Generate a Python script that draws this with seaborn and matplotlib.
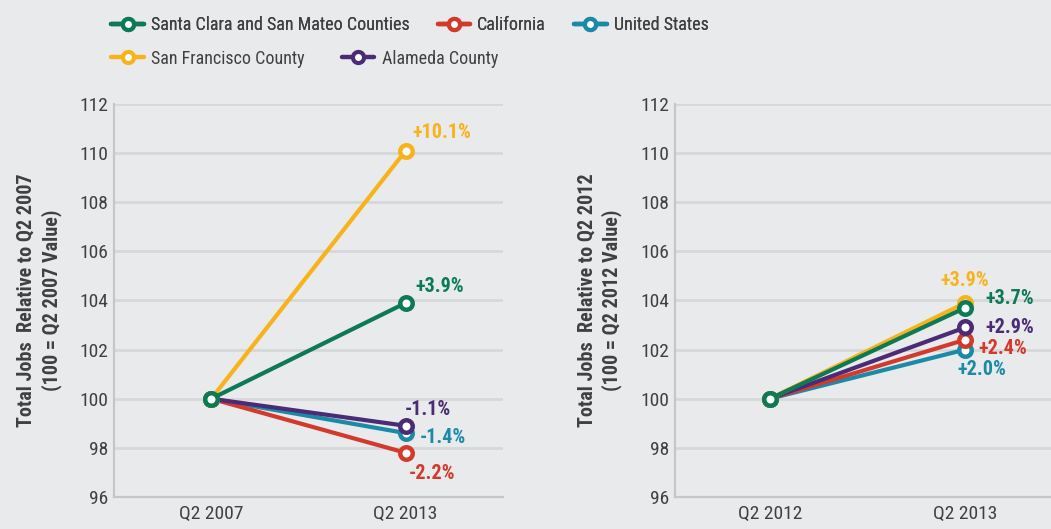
import pandas as pd
import matplotlib.pyplot as plt
import seaborn as sns
from matplotlib.lines import Line2D

# Series (index values, 100 = base quarter)
series_names = ["United States", "California", "Alameda County",
                "San Francisco County", "Santa Clara and San Mateo Counties"]
left_periods = ["Q2 2007", "Q2 2013"]
right_periods = ["Q2 2012", "Q2 2013"]
left_end = [98.6, 97.8, 98.9, 110.1, 103.9]
right_end = [102.0, 102.4, 102.9, 103.9, 103.7]
left_labels = ["-1.4%", "-2.2%", "-1.1%", "+10.1%", "+3.9%"]
right_labels = ["+2.0%", "+2.4%", "+2.9%", "+3.9%", "+3.7%"]
legend_row1 = ["Santa Clara and San Mateo Counties", "California", "United States"]
legend_row2 = ["San Francisco County", "Alameda County"]
y_ticks = [96, 98, 100, 102, 104, 106, 108, 110, 112]

colors = {
    "United States": "#1B8AA6",
    "California": "#D23A2C",
    "Alameda County": "#4A2B74",
    "San Francisco County": "#F8B31A",
    "Santa Clara and San Mateo Counties": "#0B7A55",
}

# label offsets in points (dx, dy) relative to the end marker
left_offsets = {
    "United States": (27, -3.5), "California": (19, -15), "Alameda County": (16, 12),
    "San Francisco County": (26, 13), "Santa Clara and San Mateo Counties": (24.5, 12),
}
right_offsets = {
    "United States": (12, -14), "California": (27, -6), "Alameda County": (32, 0),
    "San Francisco County": (0, 16), "Santa Clara and San Mateo Counties": (32, 7),
}

bg = "#E9EAEC"
grid_c = "#D6D7D9"
text_c = "#404040"

sns.set_theme(style="white")
plt.rcParams["font.family"] = ["Liberation Sans Narrow", "DejaVu Sans Condensed",
                               "Roboto Condensed", "DejaVu Sans"]


def make_df(periods, end_vals):
    rows = []
    for name, v in zip(series_names, end_vals):
        rows.append({"period": 0, "value": 100.0, "series": name})
        rows.append({"period": 1, "value": v, "series": name})
    return pd.DataFrame(rows)


fig = plt.figure(figsize=(10.51, 5.29), dpi=100, facecolor=bg)
ax1 = fig.add_axes([0.1085, 0.0605, 0.370, 0.743])
ax2 = fig.add_axes([0.642, 0.0605, 0.358, 0.743])

panels = [
    (ax1, left_periods, left_end, left_labels, left_offsets, (-0.5, 1.5), "2007"),
    (ax2, right_periods, right_end, right_labels, right_offsets, (-0.487, 1.44), "2012"),
]

for ax, periods, end_vals, labels, offsets, xlim, yr in panels:
    df = make_df(periods, end_vals)
    ax.set_facecolor(bg)
    sns.lineplot(data=df, x="period", y="value", hue="series", hue_order=series_names,
                 palette=colors, marker="o", markersize=9, markerfacecolor="white",
                 markeredgewidth=3.2, linewidth=3.0, legend=False, ax=ax, zorder=3)
    for line in ax.lines:
        line.set_markeredgecolor(line.get_color())
    for name, v, lab in zip(series_names, end_vals, labels):
        ax.annotate(lab, xy=(1, v), xytext=offsets[name], textcoords="offset points",
                    ha="center", va="center", color=colors[name], fontsize=14.5,
                    fontweight="bold", zorder=5)
    ax.set_xlim(*xlim)
    ax.set_ylim(96, 112)
    ax.set_xticks([0, 1])
    ax.set_xticklabels(periods)
    ax.set_yticks(y_ticks)
    ax.grid(axis="y", color=grid_c, linewidth=2, zorder=0)
    ax.grid(axis="x", visible=False)
    ax.tick_params(length=0, labelsize=14, colors=text_c)
    ax.tick_params(axis="x", pad=6)
    ax.tick_params(axis="y", pad=4)
    for side in ["top", "right"]:
        ax.spines[side].set_visible(False)
    for side in ["left", "bottom"]:
        ax.spines[side].set_color("#C5C6C8")
        ax.spines[side].set_linewidth(1.6)
    ax.set_xlabel("")
    ax.set_ylabel(f"Total Jobs  Relative to Q2 {yr}\n(100 = Q2 {yr} Value)",
                  fontsize=14.5, fontweight="bold", color=text_c, labelpad=13,
                  linespacing=1.3)


def handles(names):
    return [Line2D([0], [0], color=colors[n], linewidth=3.2, marker="o", markersize=8,
                   markerfacecolor="white", markeredgecolor=colors[n], markeredgewidth=3)
            for n in names]


leg1 = fig.legend(handles(legend_row1), legend_row1, loc="upper left",
                  bbox_to_anchor=(0.0904, 1.0), ncol=3, frameon=False, fontsize=13,
                  handlelength=1.8, handletextpad=0.4, columnspacing=1.55, labelcolor=text_c)
leg2 = fig.legend(handles(legend_row2), legend_row2, loc="upper left",
                  bbox_to_anchor=(0.0904, 0.937), ncol=2, frameon=False, fontsize=13,
                  handlelength=1.8, handletextpad=0.4, columnspacing=2.06, labelcolor=text_c)
fig.add_artist(leg1)

fig.savefig("out.png", dpi=100, facecolor=bg)
